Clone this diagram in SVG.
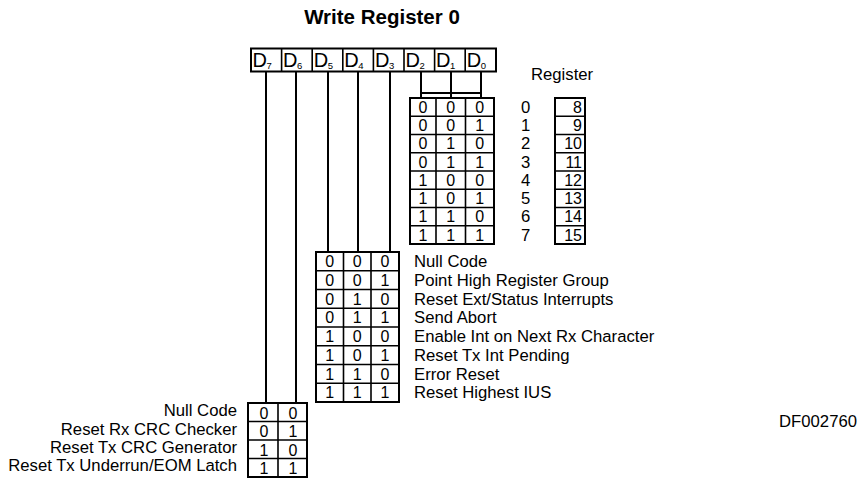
<svg xmlns="http://www.w3.org/2000/svg" width="860" height="479" viewBox="0 0 860 479">
<style>
text{font-family:"Liberation Sans",Arial,Helvetica,sans-serif;fill:#000}
.t{font-size:20.5px;font-weight:bold}
.lbl{font-size:16.7px}
.d{font-size:20px}
.sub{font-size:9.5px}
.n{font-size:16px;text-anchor:middle}
.ne{font-size:16px;text-anchor:end}
.r{text-anchor:end}
.box{fill:none;stroke:#000;stroke-width:2}
.ln{stroke:#000;stroke-width:1.6;fill:none}
.con{stroke:#000;stroke-width:2;fill:none}
</style>
<rect width="860" height="479" fill="#fff"/>
<g id="title"><text class="t" x="382" y="24" text-anchor="middle">Write Register 0</text></g>

<g id="register-bits">
<rect class="box" x="251" y="48.5" width="245" height="23"/>
<path class="ln" d="M281.6 48.5V71.5M312.2 48.5V71.5M342.8 48.5V71.5M373.4 48.5V71.5M404 48.5V71.5M434.6 48.5V71.5M465.2 48.5V71.5"/>
<text class="d" x="252.5" y="67">D</text><text class="sub" x="266.5" y="69">7</text>
<text class="d" x="283.1" y="67">D</text><text class="sub" x="297.1" y="69">6</text>
<text class="d" x="313.7" y="67">D</text><text class="sub" x="327.7" y="69">5</text>
<text class="d" x="344.3" y="67">D</text><text class="sub" x="358.3" y="69">4</text>
<text class="d" x="374.9" y="67">D</text><text class="sub" x="388.9" y="69">3</text>
<text class="d" x="405.5" y="67">D</text><text class="sub" x="419.5" y="69">2</text>
<text class="d" x="436.1" y="67">D</text><text class="sub" x="450.1" y="69">1</text>
<text class="d" x="466.7" y="67">D</text><text class="sub" x="480.7" y="69">0</text>
</g>

<g id="connectors">
<path class="con" d="M266 71.5V403M296 71.5V403M328 71.5V252M358 71.5V252M390 71.5V252"/>
<path class="con" d="M421 71.5V98M451 71.5V98M481 71.5V98M421 93H481"/>
</g>

<g id="pointer-table">
<rect class="box" x="410" y="98" width="84" height="146"/>
<path class="ln" d="M436 98V244M465.5 98V244M410 116.25H494M410 134.5H494M410 152.75H494M410 171H494M410 189.25H494M410 207.5H494M410 225.75H494"/>
<text class="n" x="423" y="112.8">0</text><text class="n" x="450.8" y="112.8">0</text><text class="n" x="479.8" y="112.8">0</text>
<text class="n" x="423" y="131">0</text><text class="n" x="450.8" y="131">0</text><text class="n" x="479.8" y="131">1</text>
<text class="n" x="423" y="149.3">0</text><text class="n" x="450.8" y="149.3">1</text><text class="n" x="479.8" y="149.3">0</text>
<text class="n" x="423" y="167.5">0</text><text class="n" x="450.8" y="167.5">1</text><text class="n" x="479.8" y="167.5">1</text>
<text class="n" x="423" y="185.8">1</text><text class="n" x="450.8" y="185.8">0</text><text class="n" x="479.8" y="185.8">0</text>
<text class="n" x="423" y="204">1</text><text class="n" x="450.8" y="204">0</text><text class="n" x="479.8" y="204">1</text>
<text class="n" x="423" y="222.3">1</text><text class="n" x="450.8" y="222.3">1</text><text class="n" x="479.8" y="222.3">0</text>
<text class="n" x="423" y="240.5">1</text><text class="n" x="450.8" y="240.5">1</text><text class="n" x="479.8" y="240.5">1</text>
</g>

<g id="register-numbers">
<text class="lbl" x="531" y="80">Register</text>
<text class="lbl" x="521" y="112.8">0</text>
<text class="lbl" x="521" y="131">1</text>
<text class="lbl" x="521" y="149.3">2</text>
<text class="lbl" x="521" y="167.5">3</text>
<text class="lbl" x="521" y="185.8">4</text>
<text class="lbl" x="521" y="204">5</text>
<text class="lbl" x="521" y="222.3">6</text>
<text class="lbl" x="521" y="240.5">7</text>
<rect class="box" x="555" y="98" width="30" height="146"/>
<path class="ln" d="M555 116.25H585M555 134.5H585M555 152.75H585M555 171H585M555 189.25H585M555 207.5H585M555 225.75H585"/>
<text class="ne" x="582" y="112.8">8</text>
<text class="ne" x="582" y="131">9</text>
<text class="ne" x="582" y="149.3">10</text>
<text class="ne" x="582" y="167.5">11</text>
<text class="ne" x="582" y="185.8">12</text>
<text class="ne" x="582" y="204">13</text>
<text class="ne" x="582" y="222.3">14</text>
<text class="ne" x="582" y="240.5">15</text>
</g>

<g id="command-table">
<rect class="box" x="316" y="252" width="83" height="150"/>
<path class="ln" d="M343.5 252V402M371 252V402M316 270.75H399M316 289.5H399M316 308.25H399M316 327H399M316 345.75H399M316 364.5H399M316 383.25H399"/>
<text class="n" x="329.8" y="267">0</text><text class="n" x="357.3" y="267">0</text><text class="n" x="385" y="267">0</text>
<text class="n" x="329.8" y="285.8">0</text><text class="n" x="357.3" y="285.8">0</text><text class="n" x="385" y="285.8">1</text>
<text class="n" x="329.8" y="304.5">0</text><text class="n" x="357.3" y="304.5">1</text><text class="n" x="385" y="304.5">0</text>
<text class="n" x="329.8" y="323.3">0</text><text class="n" x="357.3" y="323.3">1</text><text class="n" x="385" y="323.3">1</text>
<text class="n" x="329.8" y="342">1</text><text class="n" x="357.3" y="342">0</text><text class="n" x="385" y="342">0</text>
<text class="n" x="329.8" y="360.8">1</text><text class="n" x="357.3" y="360.8">0</text><text class="n" x="385" y="360.8">1</text>
<text class="n" x="329.8" y="379.5">1</text><text class="n" x="357.3" y="379.5">1</text><text class="n" x="385" y="379.5">0</text>
<text class="n" x="329.8" y="398.3">1</text><text class="n" x="357.3" y="398.3">1</text><text class="n" x="385" y="398.3">1</text>
<text class="lbl" x="414" y="267">Null Code</text>
<text class="lbl" x="414" y="285.8">Point High Register Group</text>
<text class="lbl" x="414" y="304.5">Reset Ext/Status Interrupts</text>
<text class="lbl" x="414" y="323.3">Send Abort</text>
<text class="lbl" x="414" y="342">Enable Int on Next Rx Character</text>
<text class="lbl" x="414" y="360.8">Reset Tx Int Pending</text>
<text class="lbl" x="414" y="379.5">Error Reset</text>
<text class="lbl" x="414" y="398.3">Reset Highest IUS</text>
</g>

<g id="crc-table">
<rect class="box" x="248" y="403" width="59" height="74"/>
<path class="ln" d="M278 403V477M248 421.5H307M248 440H307M248 458.5H307"/>
<text class="n" x="264" y="418.5">0</text><text class="n" x="293" y="418.5">0</text>
<text class="n" x="264" y="437">0</text><text class="n" x="293" y="437">1</text>
<text class="n" x="264" y="455.5">1</text><text class="n" x="293" y="455.5">0</text>
<text class="n" x="264" y="474">1</text><text class="n" x="293" y="474">1</text>
<text class="lbl r" x="237" y="416">Null Code</text>
<text class="lbl r" x="237" y="434.5">Reset Rx CRC Checker</text>
<text class="lbl r" x="237" y="452.5">Reset Tx CRC Generator</text>
<text class="lbl r" x="237" y="471">Reset Tx Underrun/EOM Latch</text>
</g>

<g id="figure-id"><text class="lbl r" x="857" y="427">DF002760</text></g>
</svg>
